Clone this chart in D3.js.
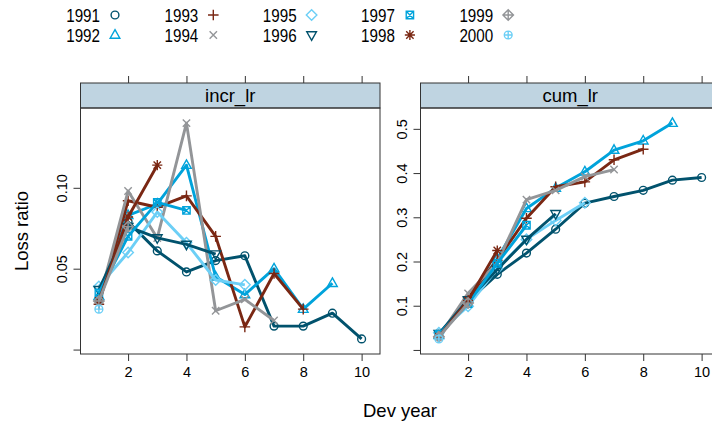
<!DOCTYPE html>
<html><head><meta charset="utf-8">
<script src="https://cdnjs.cloudflare.com/ajax/libs/d3/7.8.5/d3.min.js"></script>
<style>
html,body{margin:0;padding:0;background:#fff;}
svg text{font-family:"Liberation Sans",Arial,Helvetica,sans-serif;fill:#000;}
</style></head>
<body>
<script>
// ---------- data ----------
const years = ["1991","1992","1993","1994","1995","1996","1997","1998","1999","2000"];
const devYears = [1,2,3,4,5,6,7,8,9,10];
const panelNames = ["incr_lr","cum_lr"];

const incr1991 = [0.031,0.079,0.061,0.048,0.055,0.058,0.0145,0.0145,0.0225,0.0066];
const incr1992 = [0.033,0.083,0.090,0.114,0.045,0.034,0.050,0.025,0.041];
const incr1993 = [0.028,0.092,0.088,0.095,0.070,0.014,0.047,0.025];
const incr1994 = [0.030,0.098,0.069,0.140,0.024,0.031,0.018];
const incr1995 = [0.039,0.060,0.085,0.066,0.043,0.040];
const incr1996 = [0.037,0.076,0.069,0.065,0.059];
const incr1997 = [0.035,0.070,0.091,0.086];
const incr1998 = [0.030,0.082,0.114];
const incr1999 = [0.030,0.076];
const incr2000 = [0.025];

const cum1991 = [0.031,0.110,0.171,0.219,0.273,0.332,0.347,0.361,0.384,0.390];
const cum1992 = [0.033,0.116,0.206,0.320,0.366,0.403,0.452,0.473,0.513];
const cum1993 = [0.028,0.118,0.203,0.298,0.369,0.380,0.430,0.454];
const cum1994 = [0.030,0.128,0.197,0.340,0.361,0.392,0.408];
const cum1995 = [0.039,0.099,0.184,0.250,0.293,0.333];
const cum1996 = [0.037,0.113,0.182,0.250,0.308];
const cum1997 = [0.035,0.105,0.196,0.282];
const cum1998 = [0.030,0.112,0.225];
const cum1999 = [0.030,0.106];
const cum2000 = [0.025];

const xTicks = [2,4,6,8,10];
const yTicksIncr = [0,0.05,0.10];
const yLabelsIncr = ["","0.05","0.10"];
const yTicksCum = [0,0.1,0.2,0.3,0.4,0.5];
const yLabelsCum = ["","0.1","0.2","0.3","0.4","0.5"];

const palette = ["#01526D","#00A3DB","#7A2713","#939598","#6CCFF6"];
const symbols = ["circle","triUp","plus","cross","diamond","triDown","squareX","asterisk","diamondPlus","circlePlus"];

// ---------- build ----------
const incrSeries = [incr1991,incr1992,incr1993,incr1994,incr1995,incr1996,incr1997,incr1998,incr1999,incr2000];
const cumSeries = [cum1991,cum1992,cum1993,cum1994,cum1995,cum1996,cum1997,cum1998,cum1999,cum2000];

const W = 712, H = 429;
const svg = d3.select("body").append("svg").attr("width",W).attr("height",H);

function symPath(type, r){
  const p = d3.path();
  const circ = (rr)=>{p.moveTo(rr,0);p.arc(0,0,rr,0,2*Math.PI);};
  const plus = (rr)=>{p.moveTo(-rr,0);p.lineTo(rr,0);p.moveTo(0,-rr);p.lineTo(0,rr);};
  const cross = (rr)=>{p.moveTo(-rr,-rr);p.lineTo(rr,rr);p.moveTo(-rr,rr);p.lineTo(rr,-rr);};
  const diam = (rr)=>{p.moveTo(0,-rr);p.lineTo(rr,0);p.lineTo(0,rr);p.lineTo(-rr,0);p.closePath();};
  switch(type){
    case "circle": circ(r*0.85); break;
    case "triUp": p.moveTo(0,-r*1.15);p.lineTo(r*1.05,r*0.7);p.lineTo(-r*1.05,r*0.7);p.closePath(); break;
    case "plus": plus(r*1.15); break;
    case "cross": cross(r*0.8); break;
    case "diamond": diam(r*1.15); break;
    case "triDown": p.moveTo(0,r*1.15);p.lineTo(r*1.05,-r*0.7);p.lineTo(-r*1.05,-r*0.7);p.closePath(); break;
    case "squareX": p.rect(-r*0.8,-r*0.8,r*1.6,r*1.6); cross(r*0.8); break;
    case "asterisk": plus(r*1.1); cross(r*0.8); break;
    case "diamondPlus": diam(r*1.15); plus(r*1.15); break;
    case "circlePlus": circ(r*0.85); plus(r*0.85); break;
  }
  return p.toString();
}

const panels = [
  {name:panelNames[0], series:incrSeries, left:80.5, yTicks:yTicksIncr, yLabels:yLabelsIncr},
  {name:panelNames[1], series:cumSeries, left:420.5, yTicks:yTicksCum, yLabels:yLabelsCum}
];
const panelW = 299.5, stripTop = 83, plotTop = 108, plotBottom = 354;
const pad = 0.07;

panels.forEach(pn=>{
  const xExt = d3.extent(devYears);
  const xr = xExt[1]-xExt[0];
  const x = d3.scaleLinear().domain([xExt[0]-pad*xr, xExt[1]+pad*xr]).range([pn.left, pn.left+panelW]);
  const yExt = d3.extent(pn.series.flat());
  const yr = yExt[1]-yExt[0];
  const y = d3.scaleLinear().domain([yExt[0]-pad*yr, yExt[1]+pad*yr]).range([plotBottom, plotTop]);

  const g = svg.append("g");
  // strip
  g.append("rect").attr("x",pn.left).attr("y",stripTop).attr("width",panelW).attr("height",plotTop-stripTop)
    .attr("fill","#BFD4E1").attr("stroke","#333").attr("stroke-width",1);
  g.append("text").attr("x",pn.left+panelW/2).attr("y",(stripTop+plotTop)/2+6.5).attr("text-anchor","middle")
    .attr("font-size",18.5).text(pn.name);

  // top ticks
  const top = g.append("g").attr("transform",`translate(0,${stripTop})`)
    .call(d3.axisTop(x).tickValues(xTicks).tickSize(7).tickSizeOuter(0).tickFormat(""));
  top.select(".domain").remove();
  top.selectAll("line").attr("stroke","#333");

  // bottom axis
  const bot = g.append("g").attr("transform",`translate(0,${plotBottom})`)
    .call(d3.axisBottom(x).tickValues(xTicks).tickSize(7).tickSizeOuter(0).tickPadding(6).tickFormat(d3.format("d")));
  bot.select(".domain").remove();
  bot.selectAll("line").attr("stroke","#333");
  bot.selectAll("text").attr("font-size",14.5).attr("font-family","Liberation Sans, Arial, sans-serif").attr("fill","#000");

  // left axis
  const la = g.append("g").attr("transform",`translate(${pn.left},0)`)
    .call(d3.axisLeft(y).tickValues(pn.yTicks).tickSize(7).tickSizeOuter(0)
      .tickFormat((d,i)=>pn.yLabels[i]));
  la.select(".domain").remove();
  la.selectAll("line").attr("stroke","#333");
  la.selectAll("text").attr("font-size",14.5).attr("font-family","Liberation Sans, Arial, sans-serif").attr("fill","#000")
    .attr("text-anchor","middle").attr("x",null).attr("dy",null)
    .attr("transform","translate(-19,0) rotate(-90)").attr("y",5);

  // panel border
  g.append("rect").attr("x",pn.left).attr("y",plotTop).attr("width",panelW).attr("height",plotBottom-plotTop)
    .attr("fill","none").attr("stroke","#333").attr("stroke-width",1);

  // series
  const line = d3.line().x((d,i)=>x(devYears[i])).y(d=>y(d));
  pn.series.forEach((s,k)=>{
    const col = palette[k%5];
    const sg = g.append("g");
    sg.append("path").attr("d",line(s)).attr("fill","none").attr("stroke",col).attr("stroke-width",2.9)
      .attr("stroke-linejoin","round");
    sg.selectAll("path.pt").data(s).enter().append("path").attr("class","pt")
      .attr("transform",(d,i)=>`translate(${x(devYears[i])},${y(d)})`)
      .attr("d",symPath(symbols[k],4.6)).attr("fill","none").attr("stroke",col).attr("stroke-width",1.4);
  });
});

// axis titles
svg.append("text").attr("x",400).attr("y",417).attr("text-anchor","middle").attr("font-size",18.5).text("Dev year");
svg.append("text").attr("transform","translate(28,231) rotate(-90)").attr("text-anchor","middle").attr("font-size",18.5).text("Loss ratio");

// legend
const leg = svg.append("g");
years.forEach((yr,k)=>{
  const col = Math.floor(k/2), row = k%2;
  const tx = 100 + col*98.3, ty = 15 + row*20;
  leg.append("text").attr("transform",`translate(${tx},${ty+7}) scale(0.8,1)`).attr("text-anchor","end")
    .attr("font-size",19).text(yr);
  leg.append("path").attr("transform",`translate(${tx+15},${ty})`).attr("d",symPath(symbols[k],4.6))
    .attr("fill","none").attr("stroke",palette[k%5]).attr("stroke-width",1.4);
});
</script>
</body></html>
